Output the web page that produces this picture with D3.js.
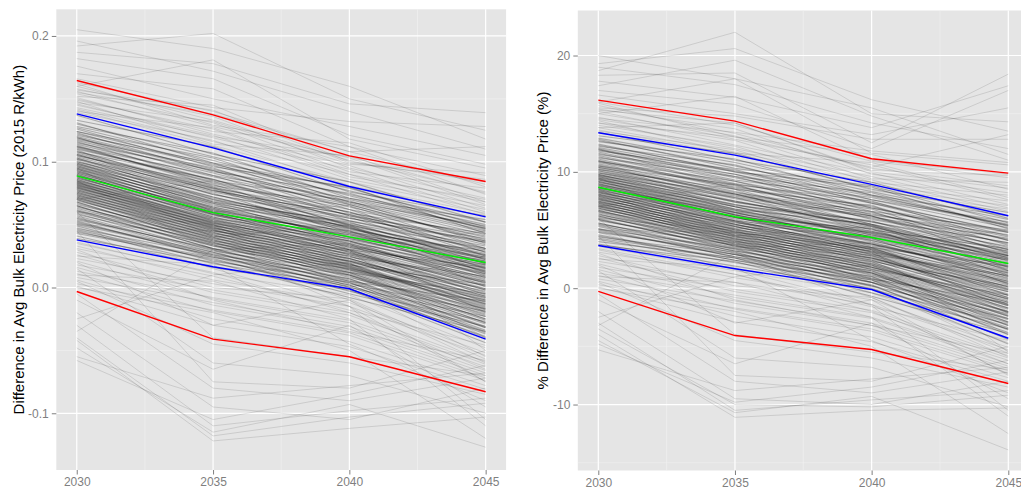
<!DOCTYPE html>
<html>
<head>
<meta charset="utf-8">
<script src="https://d3js.org/d3.v7.min.js"></script>
<style>
  body { margin: 0; background: #fff; }
  svg { display: block; font-family: "Liberation Sans", Arial, sans-serif; }
</style>
</head>
<body>
<script>
var years = [2030, 2035, 2040, 2045];
var yearLabels = ["2030", "2035", "2040", "2045"];

// each run: value at 2030, 2035, 2040, 2045
// core runs (dense band, each stands for several overlapping runs)
var absCoreRuns = [
  [0.137,0.106,0.084,0.052],[0.133,0.112,0.076,0.057],[0.131,0.099,0.079,0.048],[0.128,0.107,0.071,0.054],
  [0.126,0.096,0.080,0.043],[0.124,0.103,0.068,0.049],[0.123,0.092,0.075,0.046],[0.121,0.099,0.066,0.038],
  [0.119,0.089,0.071,0.047],[0.118,0.095,0.062,0.041],[0.116,0.085,0.069,0.035],[0.115,0.093,0.059,0.043],
  [0.113,0.081,0.065,0.031],[0.112,0.089,0.057,0.039],[0.111,0.084,0.062,0.028],[0.109,0.077,0.058,0.036],
  [0.108,0.086,0.053,0.033],[0.107,0.079,0.060,0.025],[0.106,0.074,0.055,0.037],[0.105,0.082,0.049,0.027],
  [0.104,0.076,0.056,0.022],[0.103,0.070,0.051,0.031],[0.102,0.078,0.047,0.024],[0.101,0.068,0.052,0.019],
  [0.100,0.075,0.044,0.029],[0.099,0.065,0.049,0.015],[0.098,0.072,0.046,0.026],[0.097,0.063,0.041,0.021],
  [0.096,0.069,0.048,0.012],[0.095,0.061,0.043,0.024],[0.094,0.067,0.038,0.017],[0.093,0.058,0.045,0.009],
  [0.092,0.064,0.040,0.020],[0.091,0.060,0.036,0.014],[0.090,0.057,0.042,0.023],[0.089,0.062,0.035,0.006],
  [0.088,0.055,0.039,0.018],[0.087,0.059,0.032,0.011],[0.086,0.053,0.037,0.003],[0.085,0.058,0.030,0.016],
  [0.084,0.051,0.034,0.008],[0.083,0.055,0.028,-0.002],[0.082,0.049,0.033,0.012],[0.081,0.054,0.026,0.004],
  [0.080,0.047,0.030,-0.006],[0.079,0.052,0.024,0.009],[0.078,0.045,0.029,0.001],[0.077,0.050,0.022,-0.009],
  [0.076,0.043,0.027,0.005],[0.075,0.048,0.020,-0.003],[0.074,0.041,0.025,-0.012],[0.073,0.046,0.018,0.002],
  [0.072,0.039,0.023,-0.007],[0.071,0.044,0.016,-0.015],[0.070,0.037,0.021,-0.001],[0.069,0.042,0.014,-0.010],
  [0.068,0.035,0.019,-0.018],[0.066,0.040,0.012,-0.005],[0.065,0.033,0.017,-0.013],[0.064,0.038,0.010,-0.021],
  [0.062,0.031,0.015,-0.008],[0.061,0.036,0.008,-0.017],[0.059,0.029,0.012,-0.025],[0.058,0.034,0.005,-0.011],
  [0.056,0.026,0.010,-0.028],[0.054,0.031,0.003,-0.019],[0.053,0.024,0.007,-0.032],[0.051,0.028,0.000,-0.023],
  [0.049,0.021,0.004,-0.036],[0.047,0.026,-0.003,-0.027],[0.045,0.019,0.001,-0.040],[0.043,0.023,-0.005,-0.031],
  [0.041,0.016,-0.002,-0.044],[0.039,0.020,-0.008,-0.035],
  [0.124,0.098,0.074,0.050],[0.119,0.093,0.068,0.044],[0.117,0.091,0.064,0.040],[0.114,0.088,0.066,0.037],
  [0.112,0.083,0.060,0.034],[0.110,0.086,0.057,0.031],[0.108,0.080,0.055,0.036],[0.106,0.077,0.058,0.028],
  [0.105,0.079,0.050,0.025],[0.103,0.074,0.053,0.030],[0.102,0.072,0.048,0.022],[0.100,0.071,0.050,0.026],
  [0.099,0.070,0.045,0.019],[0.098,0.067,0.047,0.023],[0.097,0.068,0.043,0.016],[0.096,0.064,0.044,0.021],
  [0.095,0.066,0.040,0.013],[0.094,0.062,0.042,0.018],[0.093,0.063,0.037,0.011],[0.092,0.060,0.039,0.015],
  [0.091,0.061,0.034,0.008],[0.090,0.058,0.037,0.013],[0.089,0.059,0.033,0.005],[0.088,0.056,0.035,0.010],
  [0.087,0.056,0.030,0.002],[0.086,0.054,0.032,0.007],[0.085,0.053,0.028,-0.001],[0.084,0.052,0.031,0.004],
  [0.083,0.050,0.026,-0.004],[0.082,0.051,0.029,0.001],[0.081,0.048,0.023,-0.007],[0.080,0.049,0.027,-0.002],
  [0.079,0.046,0.021,-0.010],[0.078,0.047,0.025,-0.005],[0.077,0.044,0.019,-0.013],[0.076,0.045,0.023,-0.008],
  [0.075,0.042,0.017,-0.016],[0.074,0.043,0.021,-0.011],[0.073,0.040,0.015,-0.019],[0.072,0.041,0.018,-0.014],
  [0.071,0.038,0.013,-0.022],[0.070,0.039,0.016,-0.017],[0.068,0.036,0.011,-0.025],[0.067,0.037,0.014,-0.020],
  [0.065,0.034,0.009,-0.028],[0.063,0.035,0.012,-0.023],[0.061,0.031,0.006,-0.031],[0.060,0.033,0.010,-0.026],
  [0.057,0.028,0.004,-0.034],[0.055,0.030,0.007,-0.029],[0.052,0.025,0.002,-0.037],[0.050,0.027,0.005,-0.032],
  [0.046,0.022,-0.001,-0.039],[0.044,0.024,0.002,-0.035],
  [0.130,0.104,0.077,0.052],[0.127,0.101,0.073,0.047],[0.122,0.097,0.070,0.045],[0.120,0.094,0.067,0.042]
];
// scattered runs outside the dense band
var absTailRuns = [
  [0.110,0.060,0.065,0.010],[0.070,0.085,0.040,0.030],[0.095,0.040,0.050,0.000],[0.060,0.050,0.000,0.025],
  [0.120,0.080,0.030,0.045],[0.050,0.045,0.030,-0.050],[0.085,0.030,0.035,-0.020],
  [0.163,0.140,0.108,0.082],[0.160,0.133,0.101,0.076],[0.158,0.136,0.095,0.071],[0.156,0.128,0.103,0.066],
  [0.154,0.131,0.092,0.079],[0.151,0.122,0.097,0.063],[0.149,0.126,0.088,0.070],[0.146,0.119,0.094,0.060],
  [0.145,0.121,0.086,0.065],[0.142,0.116,0.090,0.058],[0.141,0.113,0.084,0.062],[0.139,0.117,0.081,0.059],
  [0.162,0.129,0.112,0.074],[0.157,0.141,0.099,0.086],[0.148,0.114,0.105,0.068],
  [0.205,0.190,0.160,0.118],[0.196,0.172,0.140,0.110],[0.192,0.202,0.150,0.125],[0.187,0.178,0.146,0.139],
  [0.182,0.166,0.121,0.098],[0.176,0.150,0.128,0.105],[0.170,0.158,0.112,0.089],[0.166,0.143,0.132,0.128],
  [0.160,0.181,0.118,0.095],[0.155,0.138,0.108,0.112],[0.150,0.124,0.115,0.080],[0.147,0.132,0.098,0.091],
  [0.143,0.120,0.104,0.075],[0.140,0.127,0.090,0.068],[0.152,0.145,0.100,0.084],
  [0.036,0.011,-0.006,-0.048],[0.033,0.006,-0.012,-0.052],[0.031,0.009,-0.018,-0.046],[0.028,0.000,-0.009,-0.057],
  [0.026,-0.004,-0.022,-0.061],[0.023,0.003,-0.015,-0.054],[0.021,-0.009,-0.028,-0.066],[0.018,-0.002,-0.020,-0.059],
  [0.016,-0.014,-0.033,-0.070],[0.013,-0.008,-0.026,-0.063],[0.011,-0.019,-0.038,-0.074],[0.008,-0.012,-0.031,-0.068],
  [0.006,-0.025,-0.043,-0.078],[0.003,-0.018,-0.036,-0.072],[0.001,-0.030,-0.047,-0.081],
  [0.055,0.025,-0.010,-0.060],[0.065,0.030,0.000,-0.055],[0.048,0.015,-0.015,-0.075],
  [0.035,0.012,-0.020,-0.065],[0.030,-0.010,-0.035,-0.058],[0.025,0.018,-0.045,-0.090],[0.020,-0.030,-0.010,-0.075],
  [0.015,-0.060,-0.070,-0.100],[0.010,0.005,-0.025,-0.110],[0.005,-0.045,-0.060,-0.085],[0.000,-0.020,-0.050,-0.120],
  [-0.005,-0.080,-0.090,-0.072],[-0.010,-0.065,-0.030,-0.095],[-0.020,-0.095,-0.105,-0.080],[-0.030,-0.110,-0.098,-0.088],
  [-0.040,-0.118,-0.103,-0.092],[-0.042,-0.122,-0.112,-0.103],[-0.048,-0.115,-0.093,-0.127],[-0.055,-0.088,-0.078,-0.068],
  [-0.058,-0.105,-0.085,-0.062],[0.045,-0.075,-0.080,-0.050],[0.060,-0.040,-0.055,-0.070],[-0.035,0.030,-0.015,-0.105],
  [-0.025,0.010,0.020,-0.040]
];
var absQ05 = [-0.0032, -0.0410, -0.0551, -0.0829];
var absQ10 = [0.0379, 0.0165, -0.0010, -0.0410];
var absQ50 = [0.0888, 0.0595, 0.0403, 0.0199];
var absQ90 = [0.1380, 0.1110, 0.0803, 0.0562];
var absQ95 = [0.1646, 0.1373, 0.1047, 0.0843];
var absTicks = [-0.1, 0, 0.1, 0.2];
var absTickLabels = ["-0.1", "0.0", "0.1", "0.2"];
var absMinor = [-0.05, 0.05, 0.15];

var pctCoreRuns = [
  [13.4,11.0,9.1,6.0],[13.1,11.6,8.5,6.5],[12.8,10.3,8.8,5.6],[12.6,11.1,8.0,6.2],[12.4,10.0,8.7,5.1],
  [12.2,10.6,7.6,5.7],[12.0,9.6,8.2,5.3],[11.8,10.2,7.3,4.5],[11.7,9.3,7.8,5.4],[11.5,9.8,6.9,4.8],
  [11.3,8.9,7.5,4.1],[11.2,9.6,6.6,5.0],[11.0,8.5,7.1,3.7],[10.9,9.2,6.3,4.6],[10.8,8.7,6.8,3.3],
  [10.6,8.1,6.4,4.2],[10.5,8.9,5.9,3.9],[10.4,8.2,6.6,3.0],[10.3,7.8,6.1,4.3],[10.2,8.5,5.5,3.2],
  [10.1,7.9,6.2,2.6],[10.0,7.4,5.7,3.6],[9.9,8.1,5.3,2.8],[9.8,7.1,5.8,2.3],[9.7,7.8,5.0,3.4],
  [9.6,6.8,5.5,1.8],[9.5,7.5,5.2,3.0],[9.4,6.6,4.7,2.5],[9.3,7.2,5.4,1.5],[9.2,6.4,4.9,2.8],
  [9.1,7.0,4.4,2.0],[9.0,6.1,5.1,1.1],[8.9,6.7,4.6,2.4],[8.8,6.3,4.2,1.7],[8.7,6.0,4.8,2.7],
  [8.6,6.5,4.0,0.8],[8.5,5.8,4.5,2.1],[8.4,6.2,3.7,1.3],[8.3,5.6,4.3,0.4],[8.2,6.1,3.5,1.9],
  [8.1,5.4,3.9,1.0],[8.0,5.8,3.3,-0.1],[7.9,5.2,3.8,1.4],[7.8,5.7,3.1,0.5],[7.7,5.0,3.5,-0.6],
  [7.6,5.5,2.9,1.1],[7.5,4.8,3.4,0.1],[7.4,5.3,2.7,-1.0],[7.3,4.6,3.2,0.6],[7.2,5.1,2.5,-0.3],
  [7.1,4.4,3.0,-1.4],[7.0,4.9,2.3,0.2],[6.9,4.2,2.8,-0.8],[6.8,4.7,2.0,-1.7],[6.7,4.0,2.6,-0.1],
  [6.6,4.5,1.8,-1.2],[6.5,3.8,2.3,-2.1],[6.3,4.3,1.6,-0.6],[6.2,3.6,2.1,-1.5],[6.1,4.1,1.3,-2.4],
  [5.9,3.4,1.8,-0.9],[5.8,3.9,1.1,-2.0],[5.6,3.2,1.5,-2.9],[5.5,3.7,0.8,-1.3],[5.3,2.9,1.3,-3.2],
  [5.1,3.4,0.5,-2.2],[5.0,2.7,1.0,-3.6],[4.8,3.1,0.2,-2.6],[4.6,2.4,0.7,-4.0],[4.4,2.9,-0.1,-3.1],
  [4.2,2.2,0.3,-4.4],[4.0,2.6,-0.4,-3.5],[3.8,1.9,0.0,-4.8],[3.7,2.3,-0.7,-3.9],
  [12.3,10.1,7.9,5.5],[11.9,9.5,7.3,4.9],[11.6,9.2,6.9,4.4],[11.4,9.0,7.0,4.1],
  [11.1,8.6,6.5,3.8],[10.9,8.8,6.2,3.5],[10.7,8.3,6.0,3.9],[10.5,8.0,6.2,3.1],
  [10.4,8.1,5.5,2.8],[10.2,7.7,5.7,3.3],[10.1,7.5,5.3,2.5],[9.9,7.4,5.4,2.9],
  [9.8,7.2,4.9,2.2],[9.7,7.0,5.1,2.6],[9.6,7.0,4.7,1.9],[9.5,6.7,4.8,2.4],
  [9.4,6.8,4.4,1.6],[9.3,6.5,4.6,2.1],[9.2,6.5,4.1,1.3],[9.1,6.3,4.3,1.8],
  [9.0,6.3,3.8,1.0],[8.9,6.1,4.1,1.5],[8.8,6.1,3.6,0.7],[8.7,5.9,3.8,1.2],
  [8.6,5.8,3.3,0.4],[8.5,5.7,3.5,0.9],[8.4,5.5,3.1,0.1],[8.3,5.5,3.4,0.6],
  [8.2,5.3,2.9,-0.2],[8.1,5.3,3.2,0.3],[8.0,5.0,2.6,-0.5],[7.9,5.1,3.0,0.0],
  [7.8,4.8,2.4,-0.8],[7.7,4.9,2.8,-0.3],[7.6,4.6,2.2,-1.1],[7.5,4.7,2.6,-0.6],
  [7.4,4.4,2.0,-1.4],[7.3,4.5,2.4,-0.9],[7.2,4.2,1.8,-1.7],[7.1,4.3,2.1,-1.2],
  [7.0,4.0,1.6,-2.0],[6.9,4.1,1.9,-1.5],[6.7,3.8,1.4,-2.3],[6.6,3.9,1.7,-1.8],
  [6.4,3.6,1.2,-2.6],[6.2,3.7,1.5,-2.1],[6.0,3.3,0.9,-2.9],[5.9,3.5,1.3,-2.4],
  [5.6,3.0,0.7,-3.2],[5.4,3.2,1.0,-2.7],[5.1,2.7,0.5,-3.5],[4.9,2.9,0.8,-3.0],
  [4.5,2.4,0.2,-3.8],[4.3,2.6,0.5,-3.4],
  [12.9,10.8,8.3,5.9],[12.7,10.5,8.0,5.4],[12.1,10.0,7.6,5.2],[11.9,9.8,7.4,4.8]
];
var pctTailRuns = [
  [11.0,6.5,7.2,1.5],[7.0,9.0,4.5,3.2],[9.5,4.5,5.3,0.3],[6.0,5.0,0.5,2.8],[12.0,8.5,3.5,5.0],
  [5.0,4.8,3.3,-5.5],[8.5,3.5,3.9,-2.0],
  [16.0,14.0,10.9,9.5],[15.7,13.3,10.3,8.8],[15.4,13.7,9.8,8.2],[15.2,12.8,10.6,7.6],
  [15.0,13.1,9.4,9.1],[14.7,12.3,9.9,7.2],[14.5,12.7,9.1,8.0],[14.2,12.0,9.6,6.9],
  [14.0,12.2,8.8,7.5],[13.8,11.7,9.3,6.6],[13.6,11.5,8.6,7.1],[13.5,11.9,8.4,6.8],
  [15.9,13.0,11.5,8.5],[15.3,14.2,10.1,9.7],[14.4,11.6,10.8,7.8],
  [20.0,18.0,15.5,11.5],[19.3,20.6,16.2,13.5],[19.0,17.5,14.2,12.0],[18.7,22.0,15.0,14.3],[18.3,18.5,12.5,18.4],
  [17.8,16.4,13.8,17.4],[17.4,19.6,14.8,11.0],[17.0,15.8,12.0,17.0],[16.6,15.0,13.2,15.5],[16.0,18.0,11.6,10.6],
  [15.5,14.8,12.8,12.8],[15.0,16.5,11.0,9.8],[14.6,13.4,11.8,10.8],[14.2,13.0,10.4,13.2],[13.8,14.2,10.0,8.6],
  [3.6,1.5,-0.4,-4.7],[3.3,0.9,-1.0,-5.1],[3.1,1.2,-1.6,-4.5],[2.8,0.2,-0.8,-5.6],
  [2.6,-0.3,-2.1,-6.0],[2.3,0.5,-1.4,-5.3],[2.1,-0.8,-2.6,-6.5],[1.8,-0.1,-1.9,-5.8],
  [1.6,-1.3,-3.2,-6.9],[1.3,-0.6,-2.5,-6.2],[1.1,-1.8,-3.7,-7.3],[0.8,-1.1,-3.0,-6.7],
  [0.6,-2.4,-4.2,-7.7],[0.3,-1.7,-3.5,-7.1],[0.1,-2.9,-4.6,-8.0],
  [5.5,2.6,-0.8,-5.9],[6.4,3.1,0.1,-5.4],[4.8,1.6,-1.4,-7.4],
  [3.4,1.2,-2.0,-6.5],[3.0,-1.0,-3.2,-5.6],[2.5,1.8,-4.5,-9.0],[2.0,-3.0,-1.0,-7.5],[1.5,-6.0,-6.8,-10.2],
  [1.0,0.5,-2.5,-11.0],[0.5,-4.5,-6.0,-8.5],[0.0,-2.0,-5.0,-12.5],[-0.5,-8.0,-9.0,-7.2],[-1.0,-6.5,-3.0,-9.5],
  [-2.0,-9.5,-10.0,-8.0],[-3.0,-10.5,-9.6,-8.8],[-3.5,-10.0,-10.2,-9.2],[-4.0,-11.1,-10.5,-10.3],[-4.5,-10.7,-9.3,-13.9],
  [-5.3,-8.8,-7.8,-6.8],[-4.8,-9.8,-8.5,-6.2],[4.5,-7.5,-8.0,-5.0],[6.0,-4.0,-5.5,-7.0],[-3.2,3.0,-1.5,-10.5],
  [-2.5,1.0,2.0,-4.0]
];
var pctQ05 = [-0.28, -4.07, -5.27, -8.19];
var pctQ10 = [3.67, 1.67, -0.11, -4.30];
var pctQ50 = [8.68, 6.14, 4.36, 2.12];
var pctQ90 = [13.36, 11.44, 8.92, 6.23];
var pctQ95 = [16.17, 14.36, 11.13, 9.89];
var pctTicks = [-10, 0, 10, 20];
var pctTickLabels = ["-10", "0", "10", "20"];
var pctMinor = [-15, -5, 5, 15];

var svg = d3.select("body").append("svg")
    .attr("width", 1021)
    .attr("height", 493);

function drawPanel(p) {
  var x = d3.scaleLinear().domain([2029.25, 2045.75]).range([p.left, p.right]);
  var y = d3.scaleLinear().domain(p.yDomain).range([p.bottom, p.top]);
  var g = svg.append("g");

  g.append("rect")
    .attr("x", p.left).attr("y", p.top)
    .attr("width", p.right - p.left).attr("height", p.bottom - p.top)
    .attr("fill", "#e5e5e5");

  // minor grid
  g.selectAll(".minorY").data(p.minor).enter().append("line")
    .attr("x1", p.left).attr("x2", p.right)
    .attr("y1", function (d) { return y(d); }).attr("y2", function (d) { return y(d); })
    .attr("stroke", "#f2f2f2").attr("stroke-width", 0.6);
  g.selectAll(".minorX").data([2032.5, 2037.5, 2042.5]).enter().append("line")
    .attr("y1", p.top).attr("y2", p.bottom)
    .attr("x1", function (d) { return x(d); }).attr("x2", function (d) { return x(d); })
    .attr("stroke", "#f2f2f2").attr("stroke-width", 0.6);

  // major grid
  g.selectAll(".majorY").data(p.ticks).enter().append("line")
    .attr("x1", p.left).attr("x2", p.right)
    .attr("y1", function (d) { return y(d); }).attr("y2", function (d) { return y(d); })
    .attr("stroke", "#fff").attr("stroke-width", 1.2);
  g.selectAll(".majorX").data(years).enter().append("line")
    .attr("y1", p.top).attr("y2", p.bottom)
    .attr("x1", function (d) { return x(d); }).attr("x2", function (d) { return x(d); })
    .attr("stroke", "#fff").attr("stroke-width", 1.2);

  var line = d3.line()
    .x(function (d, i) { return x(years[i]); })
    .y(function (d) { return y(d); });

  g.selectAll(".tail").data(p.tail).enter().append("path")
    .attr("d", line)
    .attr("fill", "none")
    .attr("stroke", "#000")
    .attr("stroke-opacity", 0.13)
    .attr("stroke-width", 0.9);

  g.selectAll(".core").data(p.core).enter().append("path")
    .attr("d", line)
    .attr("fill", "none")
    .attr("stroke", "#000")
    .attr("stroke-opacity", 0.26)
    .attr("stroke-width", 1.1);

  var quant = [
    { v: p.q05, c: "#ff0000" }, { v: p.q95, c: "#ff0000" },
    { v: p.q10, c: "#0000ff" }, { v: p.q90, c: "#0000ff" },
    { v: p.q50, c: "#00ee00" }
  ];
  g.selectAll(".q").data(quant).enter().append("path")
    .attr("d", function (d) { return line(d.v); })
    .attr("fill", "none")
    .attr("stroke", function (d) { return d.c; })
    .attr("stroke-width", 1.4);

  // axes
  var ya = g.append("g").attr("transform", "translate(" + p.left + ",0)")
    .call(d3.axisLeft(y).tickValues(p.ticks).tickSize(4.5).tickPadding(3)
      .tickFormat(function (d, i) { return p.tickLabels[i]; }));
  var xa = g.append("g").attr("transform", "translate(0," + p.bottom + ")")
    .call(d3.axisBottom(x).tickValues(years).tickSize(4.5).tickPadding(3)
      .tickFormat(function (d, i) { return yearLabels[i]; }));
  [ya, xa].forEach(function (a) {
    a.select(".domain").remove();
    a.selectAll(".tick line").attr("stroke", "#7f7f7f");
    a.selectAll(".tick text").attr("fill", "#7f7f7f")
      .style("font-size", "12px").style("font-family", "Liberation Sans, Arial, sans-serif");
  });

  svg.append("text")
    .attr("transform", "translate(" + p.titleX + "," + ((p.top + p.bottom) / 2) + ") rotate(-90)")
    .attr("text-anchor", "middle")
    .attr("dy", "0.35em")
    .style("font-size", "15px")
    .attr("fill", "#000")
    .text(p.title);
}

drawPanel({
  core: absCoreRuns, tail: absTailRuns, q05: absQ05, q10: absQ10, q50: absQ50, q90: absQ90, q95: absQ95,
  yDomain: [-0.1451, 0.2212], ticks: absTicks, tickLabels: absTickLabels, minor: absMinor,
  left: 56.3, right: 506.1, top: 9.3, bottom: 470,
  titleX: 18.5, title: "Difference in Avg Bulk Electricity Price (2015 R/kWh)"
});
drawPanel({
  core: pctCoreRuns, tail: pctTailRuns, q05: pctQ05, q10: pctQ10, q50: pctQ50, q90: pctQ90, q95: pctQ95,
  yDomain: [-15.67, 23.87], ticks: pctTicks, tickLabels: pctTickLabels, minor: pctMinor,
  left: 577.8, right: 1028.8, top: 10.5, bottom: 470.5,
  titleX: 543, title: "% Difference in Avg Bulk Electricity Price (%)"
});
</script>
</body>
</html>
